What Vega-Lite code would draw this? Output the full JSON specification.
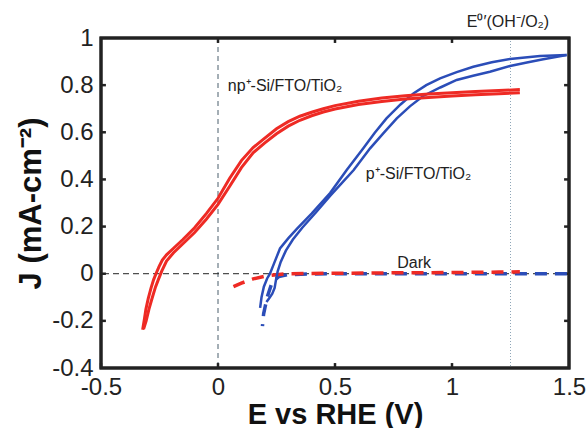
{
  "$schema": "https://vega.github.io/schema/vega-lite/v6.json",
  "width": 468,
  "height": 330,
  "autosize": {"type": "none"},
  "padding": {"left": 101, "top": 38, "right": 17, "bottom": 60},
  "background": "#ffffff",
  "config": {
    "font": "Liberation Sans",
    "view": {"stroke": "#222222", "strokeWidth": 3},
    "axis": {"grid": false, "domain": false, "ticks": false, "labelColor": "#222222", "titleColor": "#111111", "labelFlush": false, "labelOverlap": false}
  },
  "datasets": {
    "curves": [
      {"series": "np_fwd", "order": 1, "E": -0.322, "J": -0.238},
      {"series": "np_fwd", "order": 2, "E": -0.315, "J": -0.195},
      {"series": "np_fwd", "order": 3, "E": -0.308, "J": -0.15},
      {"series": "np_fwd", "order": 4, "E": -0.298, "J": -0.105},
      {"series": "np_fwd", "order": 5, "E": -0.286, "J": -0.06},
      {"series": "np_fwd", "order": 6, "E": -0.275, "J": -0.025},
      {"series": "np_fwd", "order": 7, "E": -0.265, "J": 0.0},
      {"series": "np_fwd", "order": 8, "E": -0.252, "J": 0.03},
      {"series": "np_fwd", "order": 9, "E": -0.238, "J": 0.058},
      {"series": "np_fwd", "order": 10, "E": -0.22, "J": 0.08},
      {"series": "np_fwd", "order": 11, "E": -0.19, "J": 0.108},
      {"series": "np_fwd", "order": 12, "E": -0.15, "J": 0.145},
      {"series": "np_fwd", "order": 13, "E": -0.1, "J": 0.195},
      {"series": "np_fwd", "order": 14, "E": -0.05, "J": 0.255},
      {"series": "np_fwd", "order": 15, "E": 0.0, "J": 0.32},
      {"series": "np_fwd", "order": 16, "E": 0.05, "J": 0.405},
      {"series": "np_fwd", "order": 17, "E": 0.1, "J": 0.48},
      {"series": "np_fwd", "order": 18, "E": 0.15, "J": 0.535},
      {"series": "np_fwd", "order": 19, "E": 0.2, "J": 0.575},
      {"series": "np_fwd", "order": 20, "E": 0.25, "J": 0.615},
      {"series": "np_fwd", "order": 21, "E": 0.3, "J": 0.645},
      {"series": "np_fwd", "order": 22, "E": 0.35, "J": 0.668},
      {"series": "np_fwd", "order": 23, "E": 0.4, "J": 0.685},
      {"series": "np_fwd", "order": 24, "E": 0.45, "J": 0.7},
      {"series": "np_fwd", "order": 25, "E": 0.5, "J": 0.713},
      {"series": "np_fwd", "order": 26, "E": 0.6, "J": 0.732},
      {"series": "np_fwd", "order": 27, "E": 0.7, "J": 0.745},
      {"series": "np_fwd", "order": 28, "E": 0.8, "J": 0.755},
      {"series": "np_fwd", "order": 29, "E": 0.9, "J": 0.762},
      {"series": "np_fwd", "order": 30, "E": 1.0, "J": 0.768},
      {"series": "np_fwd", "order": 31, "E": 1.1, "J": 0.773},
      {"series": "np_fwd", "order": 32, "E": 1.2, "J": 0.777},
      {"series": "np_fwd", "order": 33, "E": 1.29, "J": 0.781},
      {"series": "np_rev", "order": 1, "E": 1.29, "J": 0.768},
      {"series": "np_rev", "order": 2, "E": 1.2, "J": 0.763},
      {"series": "np_rev", "order": 3, "E": 1.1, "J": 0.759},
      {"series": "np_rev", "order": 4, "E": 1.0, "J": 0.754},
      {"series": "np_rev", "order": 5, "E": 0.9, "J": 0.748},
      {"series": "np_rev", "order": 6, "E": 0.8, "J": 0.741},
      {"series": "np_rev", "order": 7, "E": 0.7, "J": 0.731},
      {"series": "np_rev", "order": 8, "E": 0.6, "J": 0.718},
      {"series": "np_rev", "order": 9, "E": 0.5, "J": 0.699},
      {"series": "np_rev", "order": 10, "E": 0.45, "J": 0.686},
      {"series": "np_rev", "order": 11, "E": 0.4, "J": 0.67},
      {"series": "np_rev", "order": 12, "E": 0.35, "J": 0.651},
      {"series": "np_rev", "order": 13, "E": 0.3, "J": 0.626},
      {"series": "np_rev", "order": 14, "E": 0.25, "J": 0.594},
      {"series": "np_rev", "order": 15, "E": 0.2, "J": 0.555},
      {"series": "np_rev", "order": 16, "E": 0.15, "J": 0.513},
      {"series": "np_rev", "order": 17, "E": 0.1, "J": 0.45},
      {"series": "np_rev", "order": 18, "E": 0.05, "J": 0.371},
      {"series": "np_rev", "order": 19, "E": 0.0, "J": 0.294},
      {"series": "np_rev", "order": 20, "E": -0.05, "J": 0.231},
      {"series": "np_rev", "order": 21, "E": -0.1, "J": 0.175},
      {"series": "np_rev", "order": 22, "E": -0.15, "J": 0.127},
      {"series": "np_rev", "order": 23, "E": -0.19, "J": 0.089},
      {"series": "np_rev", "order": 24, "E": -0.22, "J": 0.054},
      {"series": "np_rev", "order": 25, "E": -0.24, "J": 0.012},
      {"series": "np_rev", "order": 26, "E": -0.255, "J": -0.025},
      {"series": "np_rev", "order": 27, "E": -0.267, "J": -0.056},
      {"series": "np_rev", "order": 28, "E": -0.282, "J": -0.105},
      {"series": "np_rev", "order": 29, "E": -0.295, "J": -0.15},
      {"series": "np_rev", "order": 30, "E": -0.307, "J": -0.2},
      {"series": "np_rev", "order": 31, "E": -0.318, "J": -0.235},
      {"series": "p_fwd", "order": 1, "E": 0.18, "J": -0.145},
      {"series": "p_fwd", "order": 2, "E": 0.186, "J": -0.1},
      {"series": "p_fwd", "order": 3, "E": 0.196, "J": -0.055},
      {"series": "p_fwd", "order": 4, "E": 0.21, "J": -0.02},
      {"series": "p_fwd", "order": 5, "E": 0.222, "J": 0.0},
      {"series": "p_fwd", "order": 6, "E": 0.24, "J": 0.045},
      {"series": "p_fwd", "order": 7, "E": 0.265, "J": 0.107},
      {"series": "p_fwd", "order": 8, "E": 0.3, "J": 0.15},
      {"series": "p_fwd", "order": 9, "E": 0.337, "J": 0.19},
      {"series": "p_fwd", "order": 10, "E": 0.4, "J": 0.255},
      {"series": "p_fwd", "order": 11, "E": 0.479, "J": 0.342},
      {"series": "p_fwd", "order": 12, "E": 0.55, "J": 0.44},
      {"series": "p_fwd", "order": 13, "E": 0.621, "J": 0.532},
      {"series": "p_fwd", "order": 14, "E": 0.67, "J": 0.598},
      {"series": "p_fwd", "order": 15, "E": 0.72, "J": 0.659},
      {"series": "p_fwd", "order": 16, "E": 0.78, "J": 0.718},
      {"series": "p_fwd", "order": 17, "E": 0.835, "J": 0.765},
      {"series": "p_fwd", "order": 18, "E": 0.89, "J": 0.8},
      {"series": "p_fwd", "order": 19, "E": 0.949, "J": 0.829},
      {"series": "p_fwd", "order": 20, "E": 1.02, "J": 0.855},
      {"series": "p_fwd", "order": 21, "E": 1.091, "J": 0.878},
      {"series": "p_fwd", "order": 22, "E": 1.17, "J": 0.897},
      {"series": "p_fwd", "order": 23, "E": 1.248, "J": 0.911},
      {"series": "p_fwd", "order": 24, "E": 1.376, "J": 0.924},
      {"series": "p_fwd", "order": 25, "E": 1.49, "J": 0.928},
      {"series": "p_rev", "order": 1, "E": 1.49, "J": 0.928},
      {"series": "p_rev", "order": 2, "E": 1.39, "J": 0.91},
      {"series": "p_rev", "order": 3, "E": 1.32, "J": 0.896},
      {"series": "p_rev", "order": 4, "E": 1.248, "J": 0.881},
      {"series": "p_rev", "order": 5, "E": 1.162, "J": 0.857},
      {"series": "p_rev", "order": 6, "E": 1.09, "J": 0.84},
      {"series": "p_rev", "order": 7, "E": 1.02, "J": 0.822},
      {"series": "p_rev", "order": 8, "E": 0.95, "J": 0.79},
      {"series": "p_rev", "order": 9, "E": 0.877, "J": 0.754},
      {"series": "p_rev", "order": 10, "E": 0.82, "J": 0.71},
      {"series": "p_rev", "order": 11, "E": 0.764, "J": 0.659},
      {"series": "p_rev", "order": 12, "E": 0.71, "J": 0.6},
      {"series": "p_rev", "order": 13, "E": 0.65, "J": 0.532},
      {"series": "p_rev", "order": 14, "E": 0.58, "J": 0.44},
      {"series": "p_rev", "order": 15, "E": 0.52, "J": 0.375},
      {"series": "p_rev", "order": 16, "E": 0.479, "J": 0.33},
      {"series": "p_rev", "order": 17, "E": 0.42, "J": 0.262},
      {"series": "p_rev", "order": 18, "E": 0.36, "J": 0.195},
      {"series": "p_rev", "order": 19, "E": 0.32, "J": 0.145},
      {"series": "p_rev", "order": 20, "E": 0.29, "J": 0.098},
      {"series": "p_rev", "order": 21, "E": 0.268, "J": 0.05},
      {"series": "p_rev", "order": 22, "E": 0.255, "J": 0.01},
      {"series": "p_rev", "order": 23, "E": 0.248, "J": -0.025},
      {"series": "p_rev", "order": 24, "E": 0.242, "J": -0.06},
      {"series": "p_rev", "order": 25, "E": 0.232, "J": -0.085},
      {"series": "p_rev", "order": 26, "E": 0.218, "J": -0.105},
      {"series": "p_rev", "order": 27, "E": 0.207, "J": -0.12},
      {"series": "np_dark", "order": 1, "E": 0.066, "J": -0.055},
      {"series": "np_dark", "order": 2, "E": 0.1, "J": -0.04},
      {"series": "np_dark", "order": 3, "E": 0.15, "J": -0.022},
      {"series": "np_dark", "order": 4, "E": 0.2, "J": -0.011},
      {"series": "np_dark", "order": 5, "E": 0.25, "J": -0.004},
      {"series": "np_dark", "order": 6, "E": 0.3, "J": 0.0},
      {"series": "np_dark", "order": 7, "E": 0.5, "J": 0.002},
      {"series": "np_dark", "order": 8, "E": 0.8, "J": 0.004},
      {"series": "np_dark", "order": 9, "E": 1.0, "J": 0.005},
      {"series": "np_dark", "order": 10, "E": 1.2, "J": 0.007},
      {"series": "np_dark", "order": 11, "E": 1.29, "J": 0.008},
      {"series": "p_dark", "order": 1, "E": 0.19, "J": -0.222},
      {"series": "p_dark", "order": 2, "E": 0.195, "J": -0.17},
      {"series": "p_dark", "order": 3, "E": 0.21, "J": -0.1},
      {"series": "p_dark", "order": 4, "E": 0.23, "J": -0.04},
      {"series": "p_dark", "order": 5, "E": 0.26, "J": -0.012},
      {"series": "p_dark", "order": 6, "E": 0.3, "J": -0.004},
      {"series": "p_dark", "order": 7, "E": 0.4, "J": -0.001},
      {"series": "p_dark", "order": 8, "E": 0.6, "J": 0.0},
      {"series": "p_dark", "order": 9, "E": 1.5, "J": 0.0}
    ],
    "labels": [
      {"text": "np⁺-Si/FTO/TiO₂", "E": 0.286, "J": 0.775},
      {"text": "p⁺-Si/FTO/TiO₂", "E": 0.857, "J": 0.4},
      {"text": "Dark", "E": 0.838, "J": 0.024},
      {"text": "E⁰′(OH⁻/O₂)", "E": 1.239, "J": 1.047}
    ],
    "frame": [
      {"order": 1, "E": -0.5, "J": -0.4},
      {"order": 2, "E": 1.5, "J": -0.4},
      {"order": 3, "E": 1.5, "J": 1},
      {"order": 4, "E": -0.5, "J": 1},
      {"order": 5, "E": -0.5, "J": -0.4}
    ],
    "ticks": [
      {"tick": "b1", "E": -0.5, "J": -0.4}, {"tick": "b1", "E": -0.5, "J": -0.379},
      {"tick": "b2", "E": 0, "J": -0.4}, {"tick": "b2", "E": 0, "J": -0.379},
      {"tick": "b3", "E": 0.5, "J": -0.4}, {"tick": "b3", "E": 0.5, "J": -0.379},
      {"tick": "b4", "E": 1, "J": -0.4}, {"tick": "b4", "E": 1, "J": -0.379},
      {"tick": "t2", "E": 0, "J": 1}, {"tick": "t2", "E": 0, "J": 0.979},
      {"tick": "t3", "E": 0.5, "J": 1}, {"tick": "t3", "E": 0.5, "J": 0.979},
      {"tick": "t4", "E": 1, "J": 1}, {"tick": "t4", "E": 1, "J": 0.979},
      {"tick": "l2", "E": -0.5, "J": -0.2}, {"tick": "l2", "E": -0.479, "J": -0.2},
      {"tick": "l3", "E": -0.5, "J": 0}, {"tick": "l3", "E": -0.479, "J": 0},
      {"tick": "l4", "E": -0.5, "J": 0.2}, {"tick": "l4", "E": -0.479, "J": 0.2},
      {"tick": "l5", "E": -0.5, "J": 0.4}, {"tick": "l5", "E": -0.479, "J": 0.4},
      {"tick": "l6", "E": -0.5, "J": 0.6}, {"tick": "l6", "E": -0.479, "J": 0.6},
      {"tick": "l7", "E": -0.5, "J": 0.8}, {"tick": "l7", "E": -0.479, "J": 0.8},
      {"tick": "r2", "E": 1.5, "J": -0.2}, {"tick": "r2", "E": 1.479, "J": -0.2},
      {"tick": "r3", "E": 1.5, "J": 0}, {"tick": "r3", "E": 1.479, "J": 0},
      {"tick": "r4", "E": 1.5, "J": 0.2}, {"tick": "r4", "E": 1.479, "J": 0.2},
      {"tick": "r5", "E": 1.5, "J": 0.4}, {"tick": "r5", "E": 1.479, "J": 0.4},
      {"tick": "r6", "E": 1.5, "J": 0.6}, {"tick": "r6", "E": 1.479, "J": 0.6},
      {"tick": "r7", "E": 1.5, "J": 0.8}, {"tick": "r7", "E": 1.479, "J": 0.8}
    ]
  },
  "layer": [
    {
      "data": {"values": [{"E": 0}]},
      "mark": {"type": "rule", "color": "#4a5f6c", "strokeWidth": 1, "strokeDash": [5, 4]},
      "encoding": {
        "x": {"field": "E", "type": "quantitative", "scale": {"domain": [-0.5, 1.5], "nice": false},
          "axis": {"orient": "bottom", "values": [-0.5, 0, 0.5, 1, 1.5], "labelExpr": "toString(datum.value)", "labelFontSize": 24, "labelPadding": 7, "title": "E vs RHE (V)", "titleFontSize": 29, "titleFontWeight": "bold", "titlePadding": 1}}
      }
    },
    {
      "data": {"values": [{"J": 0}]},
      "mark": {"type": "rule", "color": "#222222", "strokeWidth": 1, "strokeDash": [6, 4]},
      "encoding": {
        "y": {"field": "J", "type": "quantitative", "scale": {"domain": [-0.4, 1], "nice": false},
          "axis": {"orient": "left", "values": [-0.4, -0.2, 0, 0.2, 0.4, 0.6, 0.8, 1], "labelExpr": "toString(datum.value)", "labelFontSize": 24, "labelPadding": 8, "title": "J (mA-cm⁻²)", "titleFontSize": 31, "titleFontWeight": "bold", "titlePadding": 4}}
      }
    },
    {
      "data": {"values": [{"E": 1.25}]},
      "mark": {"type": "rule", "color": "#8fa6b8", "strokeWidth": 1, "strokeDash": [1, 2]},
      "encoding": {
        "x": {"field": "E", "type": "quantitative"}
      }
    },
    {
      "data": {"name": "frame"},
      "mark": {"type": "line", "color": "#222222", "strokeWidth": 3, "strokeJoin": "miter", "strokeCap": "square"},
      "encoding": {
        "x": {"field": "E", "type": "quantitative"},
        "y": {"field": "J", "type": "quantitative"},
        "order": {"field": "order"}
      }
    },
    {
      "data": {"name": "ticks"},
      "mark": {"type": "line", "color": "#222222", "strokeWidth": 2.5},
      "encoding": {
        "x": {"field": "E", "type": "quantitative"},
        "y": {"field": "J", "type": "quantitative"},
        "detail": {"field": "tick"}
      }
    },
    {
      "data": {"name": "curves"},
      "transform": [{"filter": "datum.series === 'p_dark'"}],
      "mark": {"type": "line", "color": "#2b4db8", "strokeWidth": 3.5, "strokeDash": [12, 8], "strokeDashOffset": 10},
      "encoding": {
        "x": {"field": "E", "type": "quantitative"},
        "y": {"field": "J", "type": "quantitative"},
        "order": {"field": "order"}
      }
    },
    {
      "data": {"name": "curves"},
      "transform": [{"filter": "datum.series === 'np_dark'"}],
      "mark": {"type": "line", "color": "#ee2a24", "strokeWidth": 3.5, "strokeDash": [12, 8]},
      "encoding": {
        "x": {"field": "E", "type": "quantitative"},
        "y": {"field": "J", "type": "quantitative"},
        "order": {"field": "order"}
      }
    },
    {
      "data": {"name": "curves"},
      "transform": [{"filter": "datum.series === 'p_fwd' || datum.series === 'p_rev'"}],
      "mark": {"type": "line", "color": "#2b4db8", "strokeWidth": 2.5},
      "encoding": {
        "x": {"field": "E", "type": "quantitative"},
        "y": {"field": "J", "type": "quantitative"},
        "detail": {"field": "series"},
        "order": {"field": "order"}
      }
    },
    {
      "data": {"name": "curves"},
      "transform": [{"filter": "datum.series === 'np_fwd' || datum.series === 'np_rev'"}],
      "mark": {"type": "line", "color": "#ee2a24", "strokeWidth": 3},
      "encoding": {
        "x": {"field": "E", "type": "quantitative"},
        "y": {"field": "J", "type": "quantitative"},
        "detail": {"field": "series"},
        "order": {"field": "order"}
      }
    },
    {
      "data": {"name": "labels"},
      "mark": {"type": "text", "fontSize": 16, "color": "#222222", "baseline": "alphabetic", "align": "center"},
      "encoding": {
        "x": {"field": "E", "type": "quantitative"},
        "y": {"field": "J", "type": "quantitative"},
        "text": {"field": "text"}
      }
    }
  ]
}
